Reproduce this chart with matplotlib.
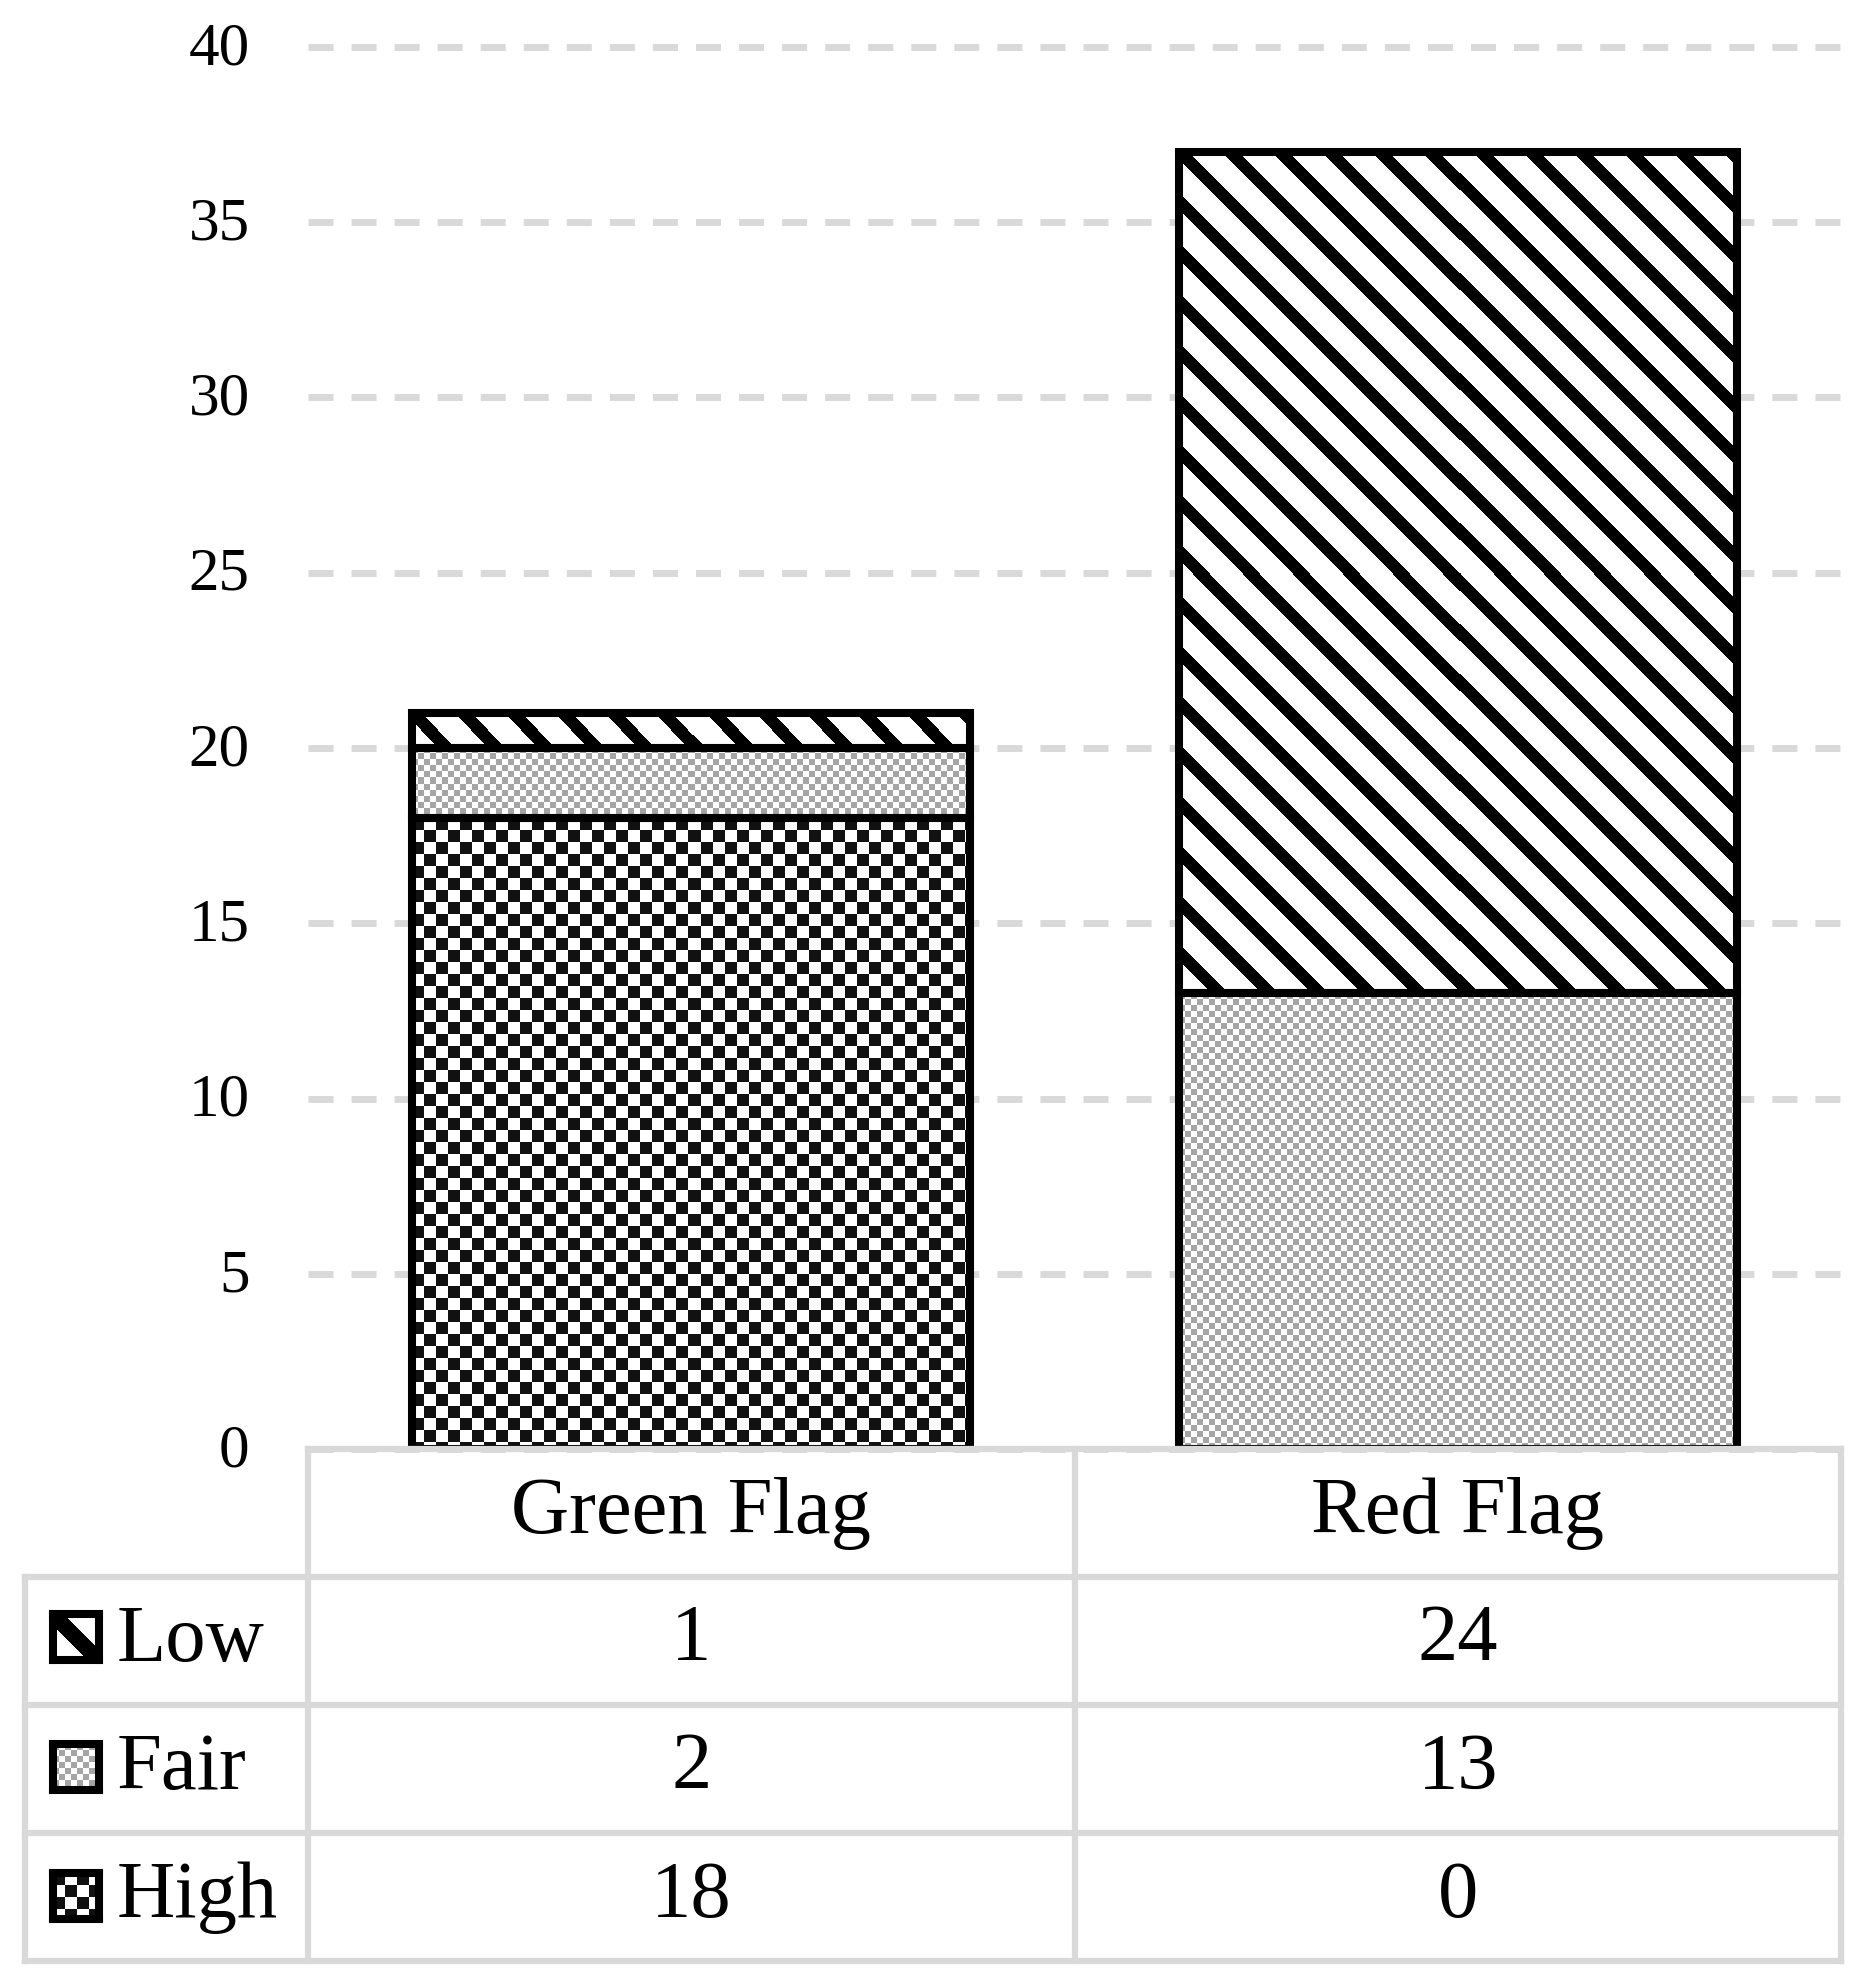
import numpy as np
import matplotlib.pyplot as plt
from matplotlib.transforms import ScaledTranslation

# data
categories = ["Green Flag", "Red Flag"]
levels = ["Low", "Fair", "High"]
low = [1, 24]
fair = [2, 13]
high = [18, 0]
yticks = [0, 5, 10, 15, 20, 25, 30, 35, 40]

W, H = 1875, 1986
DPI = 100
GRID = '#D9D9D9'
plt.rcParams['font.family'] = ['Liberation Serif', 'DejaVu Serif']


def frac(x0, y0, x1, y1):
    # pixel box (top-left origin) -> figure fraction rect
    return [x0 / W, 1 - y1 / H, (x1 - x0) / W, (y1 - y0) / H]


def texture(kind, h, w, stripe=17):
    yy, xx = np.mgrid[0:h, 0:w]
    img = np.ones((h, w, 3))
    if kind == 'Low':
        img[((xx - yy + stripe // 2) % 50) < stripe] = 0.0
    elif kind == 'Fair':
        img[((xx // 6 + yy // 6) % 2) == 0] = 0.65
    else:
        img[((xx // 12 + yy // 12) % 2) == 0] = 0.07
    return img


fig = plt.figure(figsize=(W / DPI, H / DPI), dpi=DPI)
ax = fig.add_axes(frac(308, 47, 1841, 1449))
x = np.arange(len(categories))
ax.set_xlim(-0.5, 1.5)
ax.set_ylim(0, 40)

series = {'Low': low, 'Fair': fair, 'High': high}
bottoms = np.zeros(len(categories))
for name in ['High', 'Fair', 'Low']:
    vals = np.array(series[name], dtype=float)
    bars = ax.bar(x, vals, 0.728, bottom=bottoms, facecolor='none',
                  edgecolor='black', linewidth=5.8, zorder=3)
    for p in bars.patches:
        if p.get_height() == 0:
            continue
        x0, y0 = p.get_x(), p.get_y()
        x1, y1 = x0 + p.get_width(), y0 + p.get_height()
        (px0, py0), (px1, py1) = ax.transData.transform([[x0, y0], [x1, y1]])
        img = texture(name, max(int(round(py1 - py0)), 1), max(int(round(px1 - px0)), 1))
        im = ax.imshow(img, extent=(x0, x1, y0, y1), interpolation='nearest',
                       aspect='auto', zorder=2)
        im.set_clip_path(p)
    bottoms = bottoms + vals

ax.set_xlim(-0.5, 1.5)
ax.set_ylim(0, 40)
ax.set_yticks(yticks)
ax.set_xticks([])
ax.tick_params(axis='y', length=0, pad=42, labelsize=44)
shift = ScaledTranslation(0, 4 / DPI, fig.dpi_scale_trans)
for lab in ax.get_yticklabels():
    lab.set_transform(lab.get_transform() + shift)
for s in ax.spines.values():
    s.set_visible(False)
ax.set_axisbelow(True)
ax.yaxis.grid(True, color=GRID, linewidth=5, linestyle=(0, (3.6, 2.6)))
for gl in ax.get_ygridlines():
    gl.set_clip_on(False)

# data table under the chart
tab = fig.add_axes(frac(25, 1449, 1841, 1961))
lab_w = (308 - 25) / 766.5
xl = -0.5 - lab_w
tab.set_xlim(xl, 1.5)
tab.set_ylim(4, 0)
tab.axis('off')
lk = dict(color=GRID, linewidth=4.5, clip_on=False, solid_capstyle='projecting')
tab.plot([-0.5, 1.5], [0, 0], **lk)
for r in range(1, 5):
    tab.plot([xl, 1.5], [r, r], **lk)
tab.plot([xl, xl], [1, 4], **lk)
for c in [-0.5, 0.5, 1.5]:
    tab.plot([c, c], [0, 4], **lk)

for i, cat in enumerate(categories):
    tab.text(i, 0.5, cat, ha='center', va='center', fontsize=58)
for r, name in enumerate(levels, start=1):
    for i, v in enumerate(series[name]):
        tab.text(i, r + 0.5, str(v), ha='center', va='center', fontsize=58)
    tab.text(xl + (117 - 25) / 766.5, r + 0.5, name, ha='left', va='center', fontsize=58)

# legend keys in the row labels
key_y = {'Low': 1637, 'Fair': 1767, 'High': 1896}
for name in levels:
    yc = key_y[name]
    k = fig.add_axes(frac(53, yc - 23, 99, yc + 23))
    k.imshow(texture(name, 46, 46, stripe=22), interpolation='nearest', aspect='auto')
    k.set_xticks([])
    k.set_yticks([])
    for s in k.spines.values():
        s.set_linewidth(5.8)
        s.set_color('black')

fig.savefig('out.png', dpi=DPI)
